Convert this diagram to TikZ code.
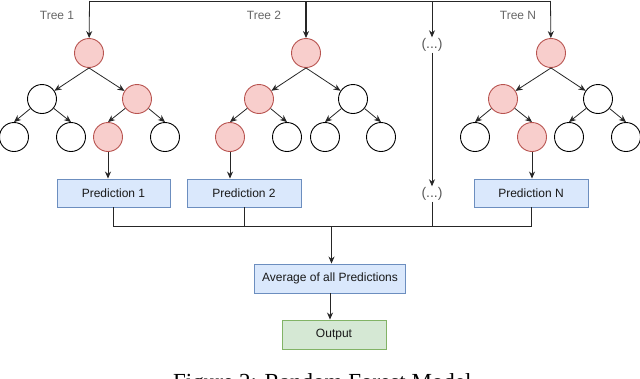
\documentclass[tikz,border=0pt]{standalone}
\usepackage{fontspec}
\newfontfamily\lsans{Liberation Sans}
\newfontfamily\lserif{Liberation Serif}
\usetikzlibrary{arrows.meta}
\definecolor{redf}{HTML}{F8CECC}
\definecolor{redd}{HTML}{B85450}
\definecolor{bluef}{HTML}{DAE8FC}
\definecolor{blued}{HTML}{6C8EBF}
\definecolor{greenf}{HTML}{D5E8D4}
\definecolor{greend}{HTML}{82B366}
\begin{document}
\begin{tikzpicture}[x=1pt,y=-1pt,
  wnode/.style={circle,draw=black,fill=white,minimum size=29pt,inner sep=0pt,line width=0.9pt},
  rnode/.style={wnode,draw=redd,fill=redf},
  boxb/.style={draw=blued,fill=bluef,line width=0.9pt,minimum width=113pt,minimum height=28pt,inner sep=0pt,
    font=\lsans\fontsize{12}{14}\selectfont,text=black!90},
  boxg/.style={boxb,draw=greend,fill=greenf},
  conn/.style={draw=black!85,line width=0.8pt,-{Stealth[length=7pt,width=6pt]}},
  plain/.style={draw=black!85,line width=0.8pt},
  lbl/.style={font=\lsans\fontsize{12}{14}\selectfont,text=black!60,inner sep=0pt},
  dots/.style={font=\lsans\fontsize{14}{16}\selectfont,text=black!65,inner sep=1pt}]
\useasboundingbox (0,0) rectangle (640,378);

% labels
\node[lbl] (l1) at (57,15) {Tree 1};
\node[lbl] (l2) at (264,15) {Tree 2};
\node[lbl] (lN) at (518,15) {Tree N};

% tree 1
\node[rnode] (a0) at (89,53) {};
\node[wnode] (a1) at (42,99) {};
\node[rnode] (a2) at (137,99) {};
\node[wnode] (a3) at (14,137) {};
\node[wnode] (a4) at (71,137) {};
\node[rnode] (a5) at (108,137) {};
\node[wnode] (a6) at (165,137) {};
% tree 2
\node[rnode] (b0) at (306,53) {};
\node[rnode] (b1) at (259,99) {};
\node[wnode] (b2) at (353,99) {};
\node[rnode] (b3) at (230,137) {};
\node[wnode] (b4) at (287,137) {};
\node[wnode] (b5) at (325,137) {};
\node[wnode] (b6) at (381,137) {};
% tree N
\node[rnode] (c0) at (551,53) {};
\node[rnode] (c1) at (503,99) {};
\node[wnode] (c2) at (598,99) {};
\node[wnode] (c3) at (475,137) {};
\node[rnode] (c4) at (532,137) {};
\node[wnode] (c5) at (569,137) {};
\node[wnode] (c6) at (626,137) {};

% tree edges
\foreach \t in {a,b,c}{
  \draw[conn] (\t0.south) -- (\t1);
  \draw[conn] (\t0.south) -- (\t2);
  \draw[conn] (\t1) -- (\t3.north);
  \draw[conn] (\t1) -- (\t4.north);
  \draw[conn] (\t2) -- (\t5.north);
  \draw[conn] (\t2) -- (\t6.north);
}

% dots
\node[dots] (d1) at (432,45) {(...)};
\node[dots] (d2) at (432,194) {(...)};

% predictions
\node[boxb] (p1) at (113.5,193) {Prediction 1};
\node[boxb,minimum width=114pt] (p2) at (244,193) {Prediction 2};
\node[boxb,minimum width=114pt] (pN) at (531,193) {Prediction N};
\node[boxb,minimum width=151pt,minimum height=29pt] (avg) at (330,278.5) {Average of all Predictions};
\node[boxg,minimum width=104pt,minimum height=29pt] (out) at (334,334.5) {Output};

% top input
\coordinate (t1) at (89.5,1);
\coordinate (tN) at (550.5,1);
\draw[plain] (t1) -- (tN);
\draw[conn] (t1) -- (a0);
\draw[conn,line width=1.3pt] (b0 |- t1) -- (b0);
\draw[conn] (d1 |- t1) -- (d1);
\draw[conn] (tN) -- (c0);
\draw[conn] (d1) -- (d2);

% leaves to predictions
\draw[conn] (a5) -- (a5 |- p1.north);
\draw[conn] (b3) -- (b3 |- p2.north);
\draw[conn] (c4) -- (c4 |- pN.north);

% collection
\coordinate (m) at (331.5,226);
\draw[plain] (p1.south) -- (p1.south |- m) -- (pN.south |- m) -- (pN.south);
\draw[plain] (p2.south) -- (p2.south |- m);
\draw[plain] (d2) -- (d2 |- m);
\draw[conn] (m) -- (m |- avg.north);
\draw[conn] (avg.south) -- (avg.south |- out.north);

% caption (cut off by the page edge as in the reference)
\node[font=\lserif\fontsize{23}{27}\selectfont,anchor=base west,inner sep=0pt] (cap) at (173,389) {Figure 2: Random Forest Model};
\end{tikzpicture}
\end{document}
